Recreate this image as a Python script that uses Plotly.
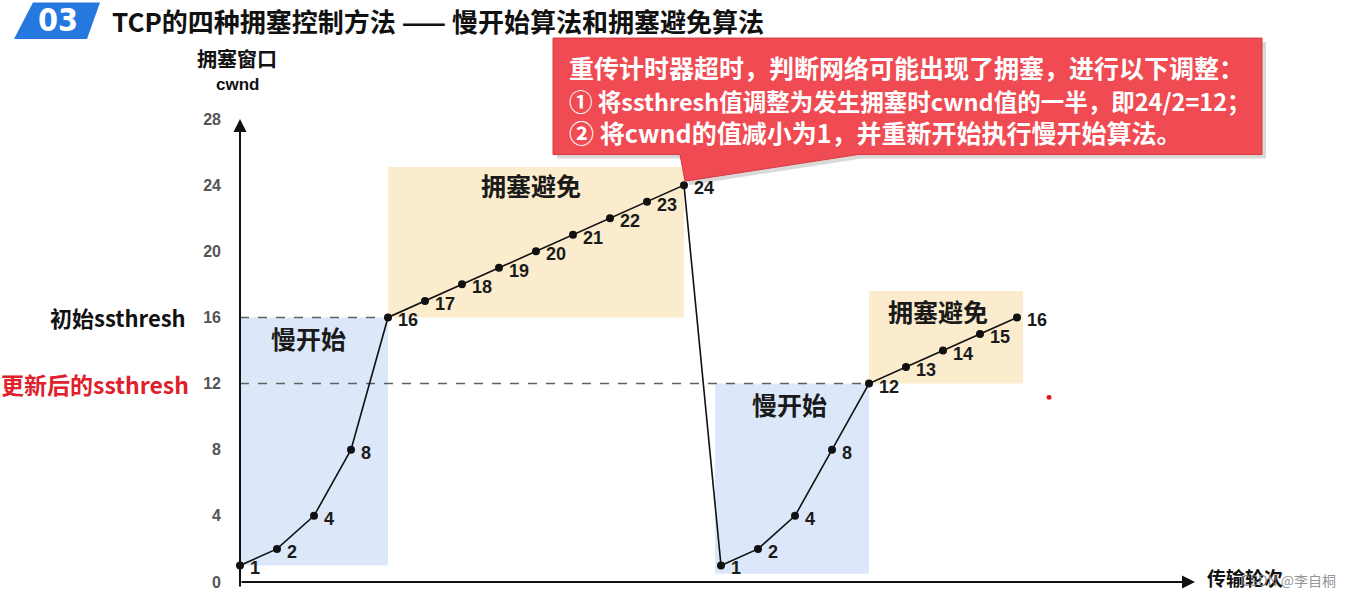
import plotly.graph_objects as go

# ---------------- data ----------------
rounds = list(range(1, 23))
cwnd = [1, 2, 4, 8, 16, 17, 18, 19, 20, 21, 22, 23, 24,
        1, 2, 4, 8, 12, 13, 14, 15, 16]
ytick_vals = [0, 4, 8, 12, 16, 20, 24, 28]
init_ssthresh = 16
new_ssthresh = 12
phase_names = ["慢开始", "拥塞避免", "慢开始", "拥塞避免"]
phase_first = [1, 5, 14, 18]
phase_last = [5, 13, 18, 22]

title_text = "TCP的四种拥塞控制方法 —— 慢开始算法和拥塞避免算法"
callout_lines = ["重传计时器超时，判断网络可能出现了拥塞，进行以下调整：",
                 "① 将ssthresh值调整为发生拥塞时cwnd值的一半，即24/2=12；",
                 "② 将cwnd的值减小为1，并重新开始执行慢开始算法。"]

# ---------------- layout geometry ----------------
W, H = 1351, 603
L, R, T, B = 240, 156, 119, 15
PW, PH = W - L - R, H - T - B
PX_PER_ROUND = 37.0
x_range = [1, 1 + PW / PX_PER_ROUND]
y_range = [0, 28]


def pp(x, y):
    """pixel -> paper"""
    return (x - L) / PW, (H - B - y) / PH


CJK = "Noto Sans CJK SC"
BLUE_FILL = "#dce8f9"
ORANGE_FILL = "#fcecce"

fig = go.Figure()

fig.add_trace(go.Scatter(
    x=rounds, y=cwnd, mode="lines+markers",
    line=dict(color="#111111", width=1.6),
    marker=dict(color="#111111", size=8),
    cliponaxis=False, hoverinfo="skip", showlegend=False,
))

shapes = []
# phase regions
regions = [
    dict(x0=phase_first[0], x1=phase_last[0], y0=1, y1=init_ssthresh, fill=BLUE_FILL),
    dict(x0=phase_first[1], x1=phase_last[1], y0=init_ssthresh, y1=25.1, fill=ORANGE_FILL),
    dict(x0=phase_first[2] - 0.16, x1=phase_last[2], y0=0.5, y1=new_ssthresh, fill=BLUE_FILL),
    dict(x0=phase_first[3], x1=phase_last[3] + 0.16, y0=new_ssthresh, y1=17.6, fill=ORANGE_FILL),
]
for rg in regions:
    shapes.append(dict(type="rect", xref="x", yref="y", x0=rg["x0"], x1=rg["x1"],
                       y0=rg["y0"], y1=rg["y1"], fillcolor=rg["fill"],
                       line=dict(width=0), layer="below"))
# ssthresh dashed lines
shapes.append(dict(type="line", xref="x", yref="y", x0=1, x1=phase_last[0],
                   y0=init_ssthresh, y1=init_ssthresh,
                   line=dict(color="#606060", width=1.6, dash="dash"), layer="below"))
shapes.append(dict(type="line", xref="x", yref="y", x0=1, x1=phase_first[3],
                   y0=new_ssthresh, y1=new_ssthresh,
                   line=dict(color="#606060", width=1.6, dash="dash"), layer="below"))


def mkpath(pts, dx=0, dy=0):
    return "M " + " L ".join(f"{pp(a + dx, b + dy)[0]:.5f},{pp(a + dx, b + dy)[1]:.5f}"
                             for a, b in pts) + " Z"


# title badge
bx = [(33, 1), (100, 1), (87, 38), (14, 38)]
shapes.append(dict(type="path", xref="paper", yref="paper", path=mkpath(bx),
                   fillcolor="#2478de", line=dict(width=0)))

# callout box with pointer
cpts = [(553, 37), (1262, 37), (1262, 155), (858, 155), (685, 182), (680, 155), (553, 155)]
shapes.append(dict(type="path", xref="paper", yref="paper", path=mkpath(cpts, 4, 4),
                   fillcolor="rgba(0,0,0,0.15)", line=dict(width=0)))
shapes.append(dict(type="path", xref="paper", yref="paper", path=mkpath(cpts),
                   fillcolor="#f04a52", line=dict(color="#d83a40", width=1)))

# small red pointer dot
cx, cy = pp(1049, 401)
shapes.append(dict(type="circle", xref="paper", yref="paper",
                   x0=cx - 2.5 / PW, x1=cx + 2.5 / PW, y0=cy - 2.5 / PH, y1=cy + 2.5 / PH,
                   fillcolor="#e8141c", line=dict(width=0)))

ann = []
# axis arrows
ann.append(dict(x=0, y=1, xref="paper", yref="paper", ax=0, ay=PH, axref="pixel", ayref="pixel",
                showarrow=True, arrowhead=2, arrowsize=1.3, arrowwidth=2, arrowcolor="#111", text=""))
ann.append(dict(x=1, y=0, xref="paper", yref="paper", ax=-PW, ay=0, axref="pixel", ayref="pixel",
                showarrow=True, arrowhead=2, arrowsize=1.3, arrowwidth=2, arrowcolor="#111", text=""))

# point value labels
for xv, yv in zip(rounds, cwnd):
    ann.append(dict(x=xv, y=yv, xref="x", yref="y", text=str(yv), showarrow=False,
                    xanchor="left", yanchor="middle", xshift=8, yshift=-3,
                    font=dict(family="Liberation Sans", size=18, color="#1a1a1a", weight="bold")))

# badge text and title
x0, y0 = pp(58, 19)
ann.append(dict(x=x0, y=y0, xref="paper", yref="paper", text="<b>03</b>", showarrow=False,
                font=dict(family="Liberation Sans Narrow, DejaVu Sans Condensed", size=32, color="white"),
                xanchor="center", yanchor="middle"))
x0, y0 = pp(110, 19)
ann.append(dict(x=x0, y=y0, xref="paper", yref="paper", text=f"<b>{title_text}</b>", showarrow=False,
                font=dict(family=CJK, size=26, color="#111"), xanchor="left", yanchor="middle"))

# y axis title
x0, y0 = pp(237, 58)
ann.append(dict(x=x0, y=y0, xref="paper", yref="paper", text="<b>拥塞窗口</b>", showarrow=False,
                font=dict(family=CJK, size=20, color="#111"), xanchor="center", yanchor="middle"))
x0, y0 = pp(237, 84)
ann.append(dict(x=x0, y=y0, xref="paper", yref="paper", text="cwnd", showarrow=False,
                font=dict(family="Liberation Sans", size=17, color="#111", weight="bold"),
                xanchor="center", yanchor="middle"))

# x axis title
x0, y0 = pp(1205, 583)
ann.append(dict(x=x0, y=y0, xref="paper", yref="paper", text="<b>传输轮次</b>", showarrow=False,
                font=dict(family=CJK, size=19, color="#111"), xanchor="left", yanchor="middle"))
# watermark
x0, y0 = pp(1338, 586)
ann.append(dict(x=x0, y=y0, xref="paper", yref="paper", text="CSDN @李自桐", showarrow=False,
                font=dict(family=CJK, size=14, color="rgba(120,120,120,0.8)"),
                xanchor="right", yanchor="middle"))

# ssthresh labels
x0, _ = pp(188, 0)
ann.append(dict(x=x0, y=init_ssthresh, xref="paper", yref="y", text="<b>初始ssthresh</b>",
                showarrow=False, font=dict(family=CJK, size=22, color="#111"),
                xanchor="right", yanchor="middle"))
ann.append(dict(x=x0 + 3 / PW, y=new_ssthresh, xref="paper", yref="y", text="<b>更新后的ssthresh</b>",
                showarrow=False, font=dict(family=CJK, size=23, color="#e0202a"),
                xanchor="right", yanchor="middle"))

# phase labels
label_x = [2.84, 8.86, 15.86, 19.86]
label_y = [14.75, 24.0, 10.75, 16.4]
for i, nm in enumerate(phase_names):
    ann.append(dict(x=label_x[i], y=label_y[i], xref="x", yref="y", text=f"<b>{nm}</b>", showarrow=False,
                    font=dict(family=CJK, size=25, color="#1a1a1a"),
                    xanchor="center", yanchor="middle"))

# callout text (single multi-line block)
line_sizes = [25, 23.5, 25]
callout_html = "<br>".join(f'<span style="font-size:{s}px"><b>{ln}</b></span>'
                           for ln, s in zip(callout_lines, line_sizes))
x0, y0 = pp(567, 99)
ann.append(dict(x=x0, y=y0, xref="paper", yref="paper", text=callout_html, showarrow=False,
                align="left", font=dict(family=CJK, size=25, color="white"),
                xanchor="left", yanchor="middle"))

fig.update_layout(
    width=W, height=H, margin=dict(l=L, r=R, t=T, b=B),
    paper_bgcolor="white", plot_bgcolor="white",
    shapes=shapes, annotations=ann, showlegend=False,
    xaxis=dict(range=x_range, showgrid=False, zeroline=False, showline=False,
               showticklabels=False, ticks=""),
    yaxis=dict(range=y_range, tickvals=ytick_vals, showgrid=False, zeroline=False, showline=False,
               ticks="", ticklabelstandoff=18,
               tickfont=dict(family="Liberation Sans", size=16, color="#555", weight="bold")),
)

fig.write_html("out.html")
